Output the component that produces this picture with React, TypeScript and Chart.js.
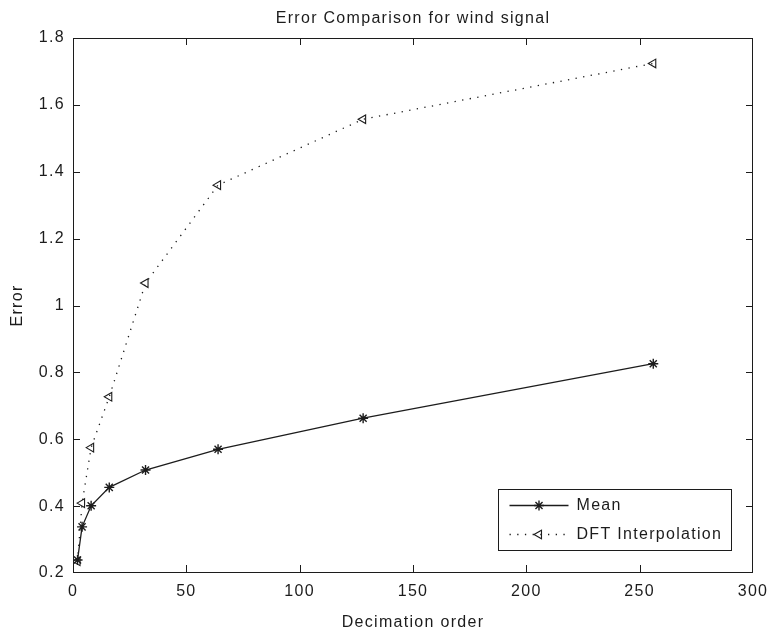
import React, { useEffect, useRef } from "react";
import { Chart, registerables } from "chart.js";
import { drawPoint } from "chart.js/helpers";

Chart.register(...registerables);

// ---- data ----
const decimationOrders = [2, 4, 8, 16, 32, 64, 128, 256];
const meanError = [0.239, 0.338, 0.401, 0.456, 0.508, 0.57, 0.663, 0.826];
const dftError = [0.235, 0.409, 0.575, 0.727, 1.067, 1.36, 1.557, 1.724];
const xTicks = [0, 50, 100, 150, 200, 250, 300];
const yTicks = [0.2, 0.4, 0.6, 0.8, 1, 1.2, 1.4, 1.6, 1.8];
const seriesLabels = ["Mean", "DFT Interpolation"];
const titleText = "Error Comparison for wind signal";
const xTitle = "Decimation order";
const yTitle = "Error";

// ---- styles ----
const FONT = "'Liberation Sans', Arial, Helvetica, sans-serif";
const INK = "#1c1c1c";
const LS = "1.3px";
const DOTS = [1.3, 6.4];
const TICK_LEN = 7;

const spacingPlugin = {
  id: "spacing",
  beforeUpdate(chart: any) {
    chart.ctx.letterSpacing = LS;
  },
  beforeLayout(chart: any) {
    chart.ctx.letterSpacing = LS;
  },
  beforeDraw(chart: any) {
    chart.ctx.letterSpacing = LS;
  },
};

const framePlugin = {
  id: "frame",
  afterDraw(chart: any) {
    const { ctx, chartArea: a, scales } = chart;
    const xs = scales.x;
    const ys = scales.y;
    const L = Math.round(a.left);
    const R = Math.round(a.right) - 1;
    const T = Math.round(a.top);
    const B = Math.round(a.bottom) - 1;
    ctx.save();
    ctx.fillStyle = INK;
    // frame
    ctx.fillRect(L, T, R - L + 1, 1);
    ctx.fillRect(L, B, R - L + 1, 1);
    ctx.fillRect(L, T, 1, B - T + 1);
    ctx.fillRect(R, T, 1, B - T + 1);
    // inward ticks
    xTicks.forEach((v) => {
      const p = Math.min(R, Math.round(xs.getPixelForValue(v)));
      ctx.fillRect(p, B - TICK_LEN, 1, TICK_LEN);
      ctx.fillRect(p, T, 1, TICK_LEN);
    });
    yTicks.forEach((v) => {
      const p = Math.min(B, Math.round(ys.getPixelForValue(v)));
      ctx.fillRect(L, p, TICK_LEN, 1);
      ctx.fillRect(R - TICK_LEN + 1, p, TICK_LEN, 1);
    });

    // legend box
    const bw = 233;
    const bh = 61;
    const bx = Math.round(a.right) - 255 + 0.5;
    const by = Math.round(a.bottom) - 84 + 0.5;
    ctx.strokeStyle = INK;
    ctx.lineWidth = 1;
    ctx.fillStyle = "#ffffff";
    ctx.fillRect(bx, by, bw, bh);
    ctx.strokeRect(bx, by, bw, bh);

    const rows = [by + 15, by + 44];
    chart.data.datasets.forEach((ds: any, i: number) => {
      const y = Math.round(rows[i]) + 0.5;
      const x0 = bx + 11;
      const x1 = bx + 70;
      ctx.save();
      ctx.strokeStyle = INK;
      ctx.lineWidth = ds.borderWidth;
      ctx.setLineDash(ds.borderDash || []);
      ctx.beginPath();
      ctx.moveTo(x0, y);
      ctx.lineTo(x1, y);
      ctx.stroke();
      ctx.setLineDash([]);
      ctx.fillStyle = "rgba(0,0,0,0)";
      ctx.strokeStyle = INK;
      ctx.lineWidth = ds.pointBorderWidth;
      drawPoint(
        ctx,
        {
          pointStyle: ds.pointStyle,
          radius: ds.pointRadius,
          rotation: ds.pointRotation || 0,
          borderWidth: ds.pointBorderWidth,
        } as any,
        (x0 + x1) / 2,
        y
      );
      ctx.restore();
      ctx.fillStyle = INK;
      ctx.font = `16px ${FONT}`;
      ctx.textAlign = "left";
      ctx.textBaseline = "middle";
      ctx.fillText(ds.label, bx + 78, y);
    });
    ctx.restore();
  },
};

export default function App() {
  const ref = useRef<HTMLCanvasElement | null>(null);

  useEffect(() => {
    document.body.style.margin = "0";
    const canvas = ref.current;
    if (!canvas) return;
    const font = { family: FONT, size: 16, weight: "normal" as const };
    const chart = new Chart(canvas, {
      type: "scatter",
      data: {
        datasets: [
          {
            label: seriesLabels[0],
            data: decimationOrders.map((x, i) => ({ x, y: meanError[i] })),
            showLine: true,
            borderColor: INK,
            borderWidth: 1.3,
            pointStyle: "star",
            pointRadius: 5,
            pointBorderWidth: 1.4,
            pointBorderColor: INK,
            pointBackgroundColor: "rgba(0,0,0,0)",
          },
          {
            label: seriesLabels[1],
            data: decimationOrders.map((x, i) => ({ x, y: dftError[i] })),
            showLine: true,
            borderColor: INK,
            borderWidth: 1.3,
            borderDash: DOTS,
            pointStyle: "triangle",
            pointRotation: -90,
            pointRadius: 5,
            pointBorderWidth: 1.1,
            pointBorderColor: INK,
            pointBackgroundColor: "rgba(0,0,0,0)",
          },
        ] as any,
      },
      options: {
        responsive: false,
        animation: false,
        devicePixelRatio: 1,
        layout: { padding: { left: 0, right: 17, top: 0, bottom: 0 } },
        plugins: {
          legend: { display: false },
          tooltip: { enabled: false },
          title: {
            display: true,
            fullSize: false,
            text: titleText,
            color: INK,
            font,
            padding: { top: 8.7, bottom: 10.1 },
          },
        },
        scales: {
          x: {
            type: "linear",
            min: 0,
            max: 300,
            grid: { display: false, drawTicks: false },
            border: { display: false },
            afterBuildTicks: (s: any) => {
              s.ticks = xTicks.map((v) => ({ value: v }));
            },
            ticks: {
              color: INK,
              font,
              padding: 9,
              maxRotation: 0,
              autoSkip: false,
              callback: (v: any) => String(v),
            },
            title: {
              display: true,
              text: xTitle,
              color: INK,
              font,
              padding: { top: 0, bottom: 0 },
            },
            afterFit: (s: any) => {
              s.height = 59;
              s.paddingLeft = 0;
              s.paddingRight = 0;
            },
          },
          y: {
            type: "linear",
            min: 0.2,
            max: 1.8,
            grid: { display: false, drawTicks: false },
            border: { display: false },
            afterBuildTicks: (s: any) => {
              s.ticks = yTicks.map((v) => ({ value: v }));
            },
            ticks: {
              color: INK,
              font,
              padding: 8,
              autoSkip: false,
              callback: (v: any) => String(Number(Number(v).toFixed(1))),
            },
            title: {
              display: true,
              text: yTitle,
              color: INK,
              font,
              padding: { top: 8, bottom: 0 },
            },
            afterFit: (s: any) => {
              s.width = 73;
              s.paddingTop = 0;
              s.paddingBottom = 0;
            },
          },
        },
      } as any,
      plugins: [spacingPlugin, framePlugin],
    });
    return () => chart.destroy();
  }, []);

  return (
    <div style={{ position: "absolute", left: 0, top: 0, width: 770, height: 632, background: "#fff" }}>
      <canvas ref={ref} width={770} height={632} style={{ display: "block" }} />
    </div>
  );
}
